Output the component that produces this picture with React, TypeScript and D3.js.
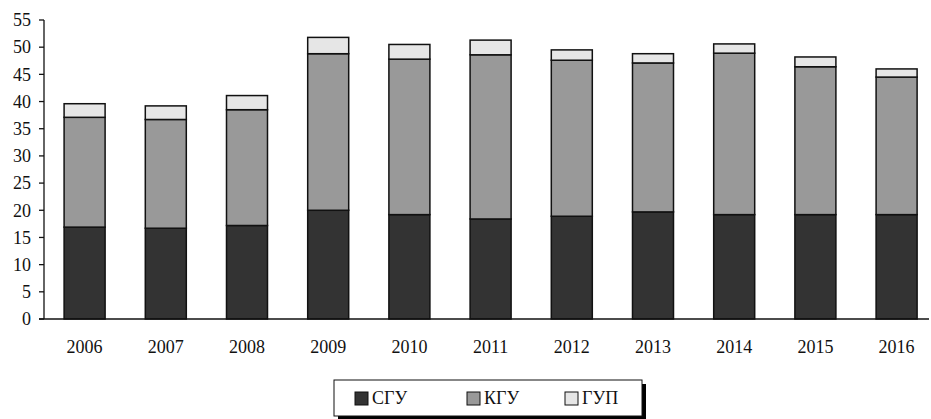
import React from "react";
import * as d3 from "d3";

const years = ["2006", "2007", "2008", "2009", "2010", "2011", "2012", "2013", "2014", "2015", "2016"];
const sgu = [16.9, 16.7, 17.2, 20.0, 19.2, 18.4, 18.9, 19.7, 19.2, 19.2, 19.2];
const kgu = [20.2, 20.0, 21.3, 28.8, 28.6, 30.2, 28.7, 27.4, 29.7, 27.2, 25.3];
const gup = [2.5, 2.5, 2.6, 3.0, 2.7, 2.7, 1.9, 1.7, 1.7, 1.8, 1.5];
const seriesNames = ["СГУ", "КГУ", "ГУП"];
const seriesColors = ["#333333", "#999999", "#e6e6e6"];
const yTicks = [0, 5, 10, 15, 20, 25, 30, 35, 40, 45, 50, 55];

const W = 931;
const H = 419;
const FONT = "'Liberation Serif', 'Times New Roman', serif";

export default function App() {
  const left = 44;
  const top = 20;
  const bottom = 319;
  const x = d3.scaleBand<string>().domain(years).range([left, left + 11 * 81.2]).paddingInner(0.495).paddingOuter(0.2475);
  const y = d3.scaleLinear().domain([0, 55]).range([bottom, top]);

  const rows = years.map((yr, i) => ({ year: yr, s0: sgu[i], s1: kgu[i], s2: gup[i] }));
  const stack = d3.stack<any>().keys(["s0", "s1", "s2"])(rows);

  const legendItems = [
    { x: 355, label: seriesNames[0], color: seriesColors[0] },
    { x: 467, label: seriesNames[1], color: seriesColors[1] },
    { x: 565, label: seriesNames[2], color: seriesColors[2] },
  ];

  return (
    <svg width={W} height={H} style={{ position: "absolute", left: 0, top: 0, background: "#fff" }}>
      <rect x={0} y={0} width={W} height={H} fill="#fff" />
      {stack.map((layer, li) => (
        <g key={li}>
          {layer.map((d, i) => (
            <rect
              key={i}
              x={x(years[i])!}
              y={y(d[1])}
              width={x.bandwidth()}
              height={y(d[0]) - y(d[1])}
              fill={seriesColors[li]}
              stroke="#111"
              strokeWidth={1.5}
            />
          ))}
        </g>
      ))}
      {/* Y axis */}
      <line x1={left} x2={left} y1={top} y2={bottom} stroke="#111" strokeWidth={1.3} />
      {yTicks.map((t) => (
        <g key={t}>
          <line x1={left - 5} x2={left} y1={y(t)} y2={y(t)} stroke="#111" strokeWidth={1.3} />
          <text x={31} y={y(t)} dy="0.35em" textAnchor="end" fontFamily={FONT} fontSize={18} fill="#111">
            {t}
          </text>
        </g>
      ))}
      {/* X axis */}
      <line x1={left - 5} x2={929} y1={bottom} y2={bottom} stroke="#111" strokeWidth={1.3} />
      {years.map((yr) => (
        <text key={yr} x={x(yr)! + x.bandwidth() / 2} y={353} textAnchor="middle" fontFamily={FONT} fontSize={18} fill="#111">
          {yr}
        </text>
      ))}
      {/* Legend */}
      <rect x={338} y={384} width={308} height={36} fill="#000" />
      <rect x={334} y={380} width={308} height={36} fill="#fff" stroke="#111" strokeWidth={1} />
      {legendItems.map((it) => (
        <g key={it.label}>
          <rect x={it.x} y={392} width={13} height={13} fill={it.color} stroke="#111" strokeWidth={1} />
          <text x={it.x + 17} y={404} fontFamily={FONT} fontSize={18} fill="#111">
            {it.label}
          </text>
        </g>
      ))}
    </svg>
  );
}
